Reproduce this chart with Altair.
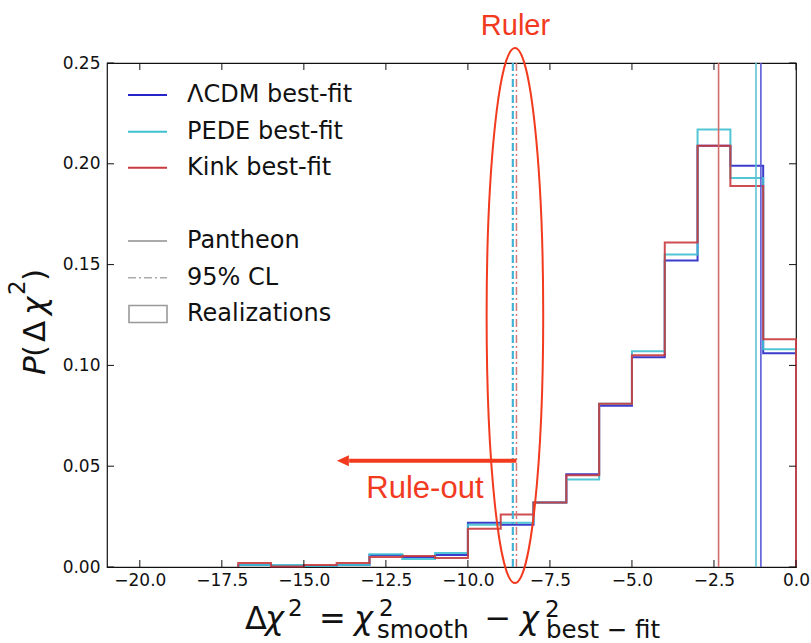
import altair as alt
import pandas as pd

# Histogram of Δχ² = χ²_smooth − χ²_best-fit over the realizations (unit-width bins)
bin_edges = [-17, -16, -15, -14, -13, -12, -11, -10, -9, -8, -7, -6, -5, -4, -3, -2, -1, 0]
lcdm_p = [0.001, 0.0005, 0.0005, 0.001, 0.006, 0.005, 0.006, 0.022, 0.021, 0.032,
          0.046, 0.080, 0.104, 0.152, 0.209, 0.199, 0.106]
pede_p = [0.001, 0.001, 0.0005, 0.001, 0.0063, 0.004, 0.007, 0.021, 0.022, 0.032,
          0.0434, 0.081, 0.107, 0.155, 0.217, 0.193, 0.108]
kink_p = [0.002, 0.0003, 0.001, 0.002, 0.005, 0.0055, 0.0045, 0.019, 0.026, 0.032,
          0.0455, 0.081, 0.105, 0.161, 0.209, 0.189, 0.113]

# Δχ² measured on the Pantheon sample for each best-fit model
pantheon_dchi2 = {"lcdm": -1.07, "pede": -1.22, "kink": -2.36}
# 95% CL threshold of each distribution
cl95_dchi2 = {"lcdm": -8.64, "pede": -8.62, "kink": -8.52}

x_ticks = [-20.0, -17.5, -15.0, -12.5, -10.0, -7.5, -5.0, -2.5, 0.0]
y_ticks = [0.0, 0.05, 0.10, 0.15, 0.20, 0.25]

# annotation anchors (data units)
ruler_x = -8.55
ellipse_center = (-8.567, 0.1247)
arrow_y = 0.0527
arrow_end = -13.62
arrow_tip = -13.81
ruleout_pos = (-11.31, 0.034)

W, H = 689, 504
RED_ANN = "#f23a1e"
COLORS = {"lcdm": "#2626c8", "pede": "#3fc0d0", "kink": "#c83a3e"}
VLINE_COLORS = {"lcdm": "#5a5ad8", "pede": "#5cc6d4", "kink": "#d46c6c"}
CL_COLORS = {"lcdm": "#3f9fcf", "pede": "#45bad6", "kink": "#cf7b7b"}
LABELS = {"lcdm": "ΛCDM best-fit", "pede": "PEDE best-fit", "kink": "Kink best-fit"}
GRAY = "#aaaaaa"
DASHDOT = [8, 3, 2, 3]

X_SCALE = alt.Scale(domain=[-21, 0], nice=False, zero=False)
Y_SCALE = alt.Scale(domain=[0, 0.25], nice=False, zero=False)
X_AXIS = alt.Axis(values=x_ticks, format=".1f", title=None, ticks=False, tickSize=0,
                  domain=False, grid=False, labelPadding=5, labelFlush=False,
                  labelOverlap=False)
Y_AXIS = alt.Axis(values=y_ticks, format=".2f", title=None, ticks=False, tickSize=0,
                  domain=False, grid=False, labelPadding=7, labelOverlap=False)


def xq(field):
    return alt.X(f"{field}:Q", scale=X_SCALE, axis=X_AXIS)


def yq(field):
    return alt.Y(f"{field}:Q", scale=Y_SCALE, axis=Y_AXIS)


def one_row():
    return pd.DataFrame({"k": [0]})


def step_frame(probs):
    rows = [{"i": 0, "dchi2": bin_edges[0], "p": 0.0}]
    for k, p in enumerate(probs):
        rows.append({"i": k + 1, "dchi2": bin_edges[k], "p": p})
    rows.append({"i": len(probs) + 1, "dchi2": bin_edges[-1], "p": probs[-1]})
    rows.append({"i": len(probs) + 2, "dchi2": bin_edges[-1], "p": 0.0})
    return pd.DataFrame(rows)


layers = []

# histogram outlines
for key, probs in [("lcdm", lcdm_p), ("pede", pede_p), ("kink", kink_p)]:
    layers.append(
        alt.Chart(step_frame(probs)).mark_line(
            interpolate="step-after", color=COLORS[key], strokeWidth=2, opacity=0.9
        ).encode(x=xq("dchi2"), y=yq("p"), order="i:Q")
    )

# Pantheon values (solid) and 95% CL (dash-dot)
for key in ["kink", "pede", "lcdm"]:
    layers.append(
        alt.Chart(pd.DataFrame({"v": [pantheon_dchi2[key]]})).mark_rule(
            color=VLINE_COLORS[key], strokeWidth=1.6
        ).encode(x=xq("v"))
    )
for key in ["lcdm", "pede", "kink"]:
    layers.append(
        alt.Chart(pd.DataFrame({"v": [cl95_dchi2[key]]})).mark_rule(
            color=CL_COLORS[key], strokeWidth=1.5, strokeDash=DASHDOT
        ).encode(x=xq("v"))
    )

# inward ticks on all four sides
xt = pd.DataFrame({"t": x_ticks})
yt = pd.DataFrame({"t": y_ticks})
tick_style = dict(color="#111111", strokeWidth=1)
layers += [
    alt.Chart(xt).mark_rule(**tick_style).encode(x=xq("t"), y=alt.value(H), y2=alt.value(H - 7)),
    alt.Chart(xt).mark_rule(**tick_style).encode(x=xq("t"), y=alt.value(0), y2=alt.value(7)),
    alt.Chart(yt).mark_rule(**tick_style).encode(y=yq("t"), x=alt.value(0), x2=alt.value(7)),
    alt.Chart(yt).mark_rule(**tick_style).encode(y=yq("t"), x=alt.value(W), x2=alt.value(W - 7)),
]

# "Ruler" ellipse around the 95% CL lines
ellipse_path = ("M 0 -1 C 0.0584 -1 0.1058 -0.5523 0.1058 0 "
                "C 0.1058 0.5523 0.0584 1 0 1 "
                "C -0.0584 1 -0.1058 0.5523 -0.1058 0 "
                "C -0.1058 -0.5523 -0.0584 -1 0 -1 Z")
layers.append(
    alt.Chart(pd.DataFrame({"x": [ellipse_center[0]], "y": [ellipse_center[1]]})).mark_point(
        shape=ellipse_path, size=535 ** 2, filled=False, color=RED_ANN,
        strokeWidth=2, opacity=1
    ).encode(x=xq("x"), y=yq("y"))
)

# rule-out arrow
layers.append(
    alt.Chart(pd.DataFrame({"a": [cl95_dchi2["kink"]], "b": [arrow_end], "y": [arrow_y]})).mark_rule(
        color=RED_ANN, strokeWidth=4
    ).encode(x=xq("a"), x2="b:Q", y=yq("y"))
)
layers.append(
    alt.Chart(pd.DataFrame({"x": [arrow_tip], "y": [arrow_y]})).mark_point(
        shape="M -1 0 L 1 -0.9 L 1 0.9 Z", size=144, filled=True, color=RED_ANN,
        opacity=1, strokeWidth=0
    ).encode(x=xq("x"), y=yq("y"))
)

layers.append(
    alt.Chart(pd.DataFrame({"x": [ruleout_pos[0]], "y": [ruleout_pos[1]]})).mark_text(
        text="Rule-out", font="Liberation Sans", fontSize=31, color=RED_ANN,
        align="center", baseline="alphabetic"
    ).encode(x=xq("x"), y=yq("y"))
)
layers.append(
    alt.Chart(pd.DataFrame({"x": [ruler_x]})).mark_text(
        text="Ruler", font="Liberation Sans", fontSize=29, color=RED_ANN,
        align="center", baseline="alphabetic"
    ).encode(x=xq("x"), y=alt.value(-28))
)

# legend
leg_x0, leg_x1, leg_tx = 21, 60, 80
leg_rows = [32, 68.7, 104.7]
for key, ly in zip(["lcdm", "pede", "kink"], leg_rows):
    layers.append(
        alt.Chart(one_row()).mark_rule(color=COLORS[key], strokeWidth=2).encode(
            x=alt.value(leg_x0), x2=alt.value(leg_x1), y=alt.value(ly))
    )
    layers.append(
        alt.Chart(one_row()).mark_text(
            text=LABELS[key], font="DejaVu Sans", fontSize=24, color="#111111",
            align="left", baseline="middle"
        ).encode(x=alt.value(leg_tx), y=alt.value(ly))
    )
layers.append(
    alt.Chart(one_row()).mark_rule(color=GRAY, strokeWidth=2).encode(
        x=alt.value(leg_x0), x2=alt.value(leg_x1), y=alt.value(178))
)
layers.append(
    alt.Chart(one_row()).mark_rule(color=GRAY, strokeWidth=1.6, strokeDash=DASHDOT).encode(
        x=alt.value(leg_x0), x2=alt.value(leg_x1), y=alt.value(214.7))
)
layers.append(
    alt.Chart(one_row()).mark_rect(fill="white", stroke="#999999", strokeWidth=1.6).encode(
        x=alt.value(22), x2=alt.value(60), y=alt.value(242.5), y2=alt.value(259.5))
)
for label, ly in [("Pantheon", 178), ("95% CL", 214.7), ("Realizations", 251.3)]:
    layers.append(
        alt.Chart(one_row()).mark_text(
            text=label, font="DejaVu Sans", fontSize=24, color="#111111",
            align="left", baseline="middle"
        ).encode(x=alt.value(leg_tx), y=alt.value(ly))
    )


def piece(text, x, y, size, italic=False, align="left", angle=0):
    kw = dict(text=text, font="DejaVu Sans", fontSize=size, color="#111111",
              align=align, baseline="alphabetic")
    if italic:
        kw["fontStyle"] = "italic"
    if angle:
        kw["angle"] = angle
    return alt.Chart(one_row()).mark_text(**kw).encode(x=alt.value(x), y=alt.value(y))


# x-axis title: Δχ² = χ²_smooth − χ²_best−fit
layers += [
    piece("Δ", 138, 566, 32),
    piece("χ", 158, 566, 32, italic=True),
    piece("2", 181, 553, 23),
    piece("=", 225.5, 566, 32, align="center"),
    piece("χ", 247, 566, 32, italic=True),
    piece("2", 272, 553, 23),
    piece("smooth", 270, 575, 24.5),
    piece("−", 391, 566, 32, align="center"),
    piece("χ", 413, 566, 32, italic=True),
    piece("2", 438, 554, 23),
    piece("best − fit", 439, 575, 24.5),
]

# y-axis title: P(Δχ²), rotated
layers += [
    piece("P", -62, 312, 31, italic=True, angle=270),
    piece("(", -62, 294, 31, angle=270),
    piece("Δ", -62, 279, 31, angle=270),
    piece("χ", -62, 252, 31, italic=True, angle=270),
    piece("2", -82, 232, 23, angle=270),
    piece(")", -62, 218, 31, angle=270),
]

chart = alt.layer(*layers).properties(
    width=W, height=H,
    autosize=alt.AutoSizeParams(type="none"),
    padding={"left": 107, "top": 63, "right": 15, "bottom": 76},
).configure_view(
    stroke="#111111", strokeWidth=1.2
).configure_axis(
    labelFont="DejaVu Sans", labelFontSize=17, labelColor="#111111"
)

chart.save("out.html", embed_options={"renderer": "svg", "actions": False})
